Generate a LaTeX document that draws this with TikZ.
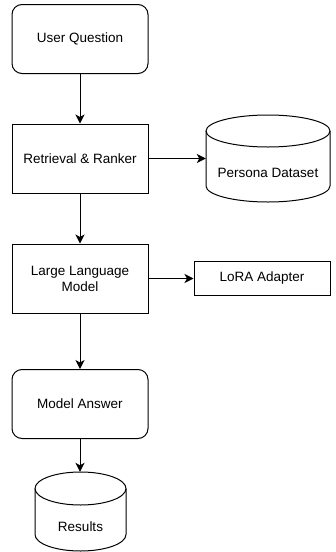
\documentclass[tikz,border=0pt]{standalone}
\usepackage{fontspec}
\setmainfont{Liberation Sans}
\usetikzlibrary{arrows.meta}
\begin{document}
\begin{tikzpicture}[x=1pt,y=-1pt,
  every node/.style={font=\fontsize{13.5}{16}\selectfont, align=center, inner sep=0pt},
  proc/.style={draw, line width=1pt, minimum width=136pt, minimum height=69pt},
  roundproc/.style={proc, rounded corners=10pt},
  conn/.style={line width=1pt, -{Stealth[length=9pt,width=9pt,inset=2.5pt]}},
  shell/.style={line width=1pt}
]
\useasboundingbox (0,0) rectangle (336,552);

% process boxes
\node[roundproc] (question) at (80,39) {User Question};
\node[proc] (retrieval) at (80,158.5) {Retrieval \& Ranker};
\node[proc] (llm) at (80,278.5) {Large Language\\Model};
\node[roundproc] (answer) at (80,404) {Model Answer};
\node[draw, line width=1pt, minimum width=136pt, minimum height=34.5pt] (lora) at (262,278.5) {LoRA Adapter};

% persona dataset cylinder
\draw[shell] (268,131) ellipse [x radius=62, y radius=16];
\draw[shell] (206,131) -- (206,186) arc [start angle=180, end angle=0, x radius=62, y radius=16] -- (330,131);
\node[minimum width=124pt, minimum height=87pt] (persona) at (268,158.5) {};
\node at (268,173) {Persona Dataset};

% results cylinder
\draw[shell] (80.5,488.5) ellipse [x radius=45.5, y radius=16.5];
\draw[shell] (35,488.5) -- (35,534.5) arc [start angle=180, end angle=0, x radius=45.5, y radius=16.5] -- (126,488.5);
\node[minimum width=91pt, minimum height=79pt] (results) at (80.5,511.5) {};
\node at (80.5,527) {Results};

% connectors
\draw[conn] (question) -- (retrieval);
\draw[conn] (retrieval) -- (persona);
\draw[conn] (retrieval) -- (llm);
\draw[conn] (llm) -- (lora);
\draw[conn] (llm) -- (answer);
\draw[conn] (answer) -- (answer |- results.north);
\end{tikzpicture}
\end{document}
